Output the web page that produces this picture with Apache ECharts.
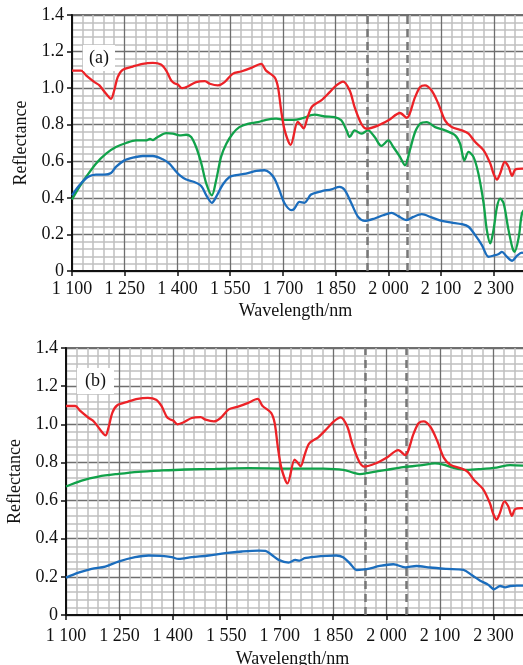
<!DOCTYPE html>
<html>
<head>
<meta charset="utf-8">
<script src="https://cdn.jsdelivr.net/npm/echarts@6/dist/echarts.min.js"></script>
<style>
  html, body { margin: 0; padding: 0; background: #fff; }
  #main { width: 523px; height: 665px; }
</style>
</head>
<body>
<div id="main"></div>
<script>
// x tick labels as printed in the figure (the 2150 tick is labelled "2 100")
var xTickLabels = ['1 100', '1 250', '1 400', '1 550', '1 700', '1 850', '2 000', '2 100', '2 300'];
var dashedWl = [1940, 2054];

// red curve, same in (a) and (b)
var redCurve = [
  [1100,1.096],[1126,1.096],[1140,1.07],[1164,1.033],[1178,1.015],[1197,0.969],[1211,0.942],
  [1220,0.987],[1230,1.06],[1244,1.10],[1273,1.118],[1301,1.133],[1330,1.138],[1353,1.129],
  [1368,1.096],[1382,1.042],[1391,1.027],[1401,1.02],[1413,1.0],[1429,1.009],[1453,1.033],
  [1478,1.038],[1492,1.024],[1515,1.015],[1534,1.033],[1557,1.078],[1581,1.091],[1610,1.111],
  [1638,1.133],[1652,1.096],[1676,1.06],[1686,1.005],[1695,0.878],[1705,0.769],[1722,0.69],
  [1742,0.815],[1750,0.80],[1759,0.78],[1770,0.84],[1783,0.90],[1809,0.933],[1833,0.978],
  [1852,1.015],[1871,1.036],[1890,0.987],[1904,0.896],[1923,0.805],[1938,0.778],[1971,0.796],
  [2000,0.824],[2033,0.864],[2052,0.838],[2076,0.951],[2090,1.005],[2104,1.015],[2123,0.987],
  [2142,0.915],[2161,0.824],[2180,0.787],[2209,0.769],[2228,0.751],[2247,0.705],[2271,0.66],
  [2290,0.587],[2299,0.533],[2309,0.50],[2318,0.533],[2331,0.596],[2342,0.569],[2352,0.52],
  [2361,0.555],[2380,0.56],[2392,0.555]
];

var greenA = [
  [1100,0.391],[1121,0.46],[1140,0.514],[1168,0.587],[1197,0.642],[1225,0.678],[1254,0.70],
  [1282,0.714],[1310,0.714],[1322,0.722],[1330,0.716],[1337,0.724],[1344,0.733],[1368,0.754],
  [1387,0.751],[1406,0.742],[1425,0.745],[1439,0.733],[1453,0.678],[1468,0.587],[1482,0.478],
  [1498,0.414],[1510,0.496],[1524,0.624],[1539,0.696],[1557,0.751],[1576,0.787],[1600,0.805],
  [1629,0.814],[1652,0.827],[1681,0.833],[1705,0.827],[1730,0.826],[1752,0.833],[1790,0.855],
  [1819,0.845],[1847,0.842],[1866,0.824],[1881,0.769],[1890,0.733],[1904,0.769],[1923,0.751],
  [1942,0.769],[1961,0.733],[1980,0.684],[2000,0.714],[2014,0.678],[2033,0.624],[2047,0.578],
  [2061,0.66],[2076,0.76],[2090,0.805],[2109,0.814],[2133,0.787],[2161,0.769],[2190,0.742],
  [2204,0.696],[2216,0.605],[2228,0.651],[2242,0.624],[2256,0.533],[2271,0.369],[2280,0.224],
  [2290,0.151],[2299,0.224],[2309,0.351],[2318,0.396],[2328,0.369],[2340,0.242],[2352,0.133],
  [2359,0.105],[2371,0.187],[2380,0.314],[2392,0.35]
];

var blueA = [
  [1100,0.414],[1121,0.469],[1145,0.514],[1168,0.527],[1192,0.527],[1211,0.536],[1225,0.569],
  [1249,0.605],[1273,0.62],[1301,0.629],[1330,0.629],[1358,0.611],[1377,0.587],[1391,0.555],
  [1406,0.524],[1425,0.50],[1448,0.487],[1468,0.464],[1482,0.414],[1498,0.373],[1510,0.405],
  [1529,0.473],[1548,0.514],[1567,0.524],[1595,0.533],[1624,0.547],[1648,0.551],[1662,0.538],
  [1676,0.505],[1690,0.442],[1705,0.369],[1724,0.333],[1732,0.34],[1747,0.378],[1761,0.373],
  [1780,0.418],[1809,0.436],[1838,0.447],[1861,0.46],[1876,0.442],[1895,0.369],[1914,0.296],
  [1933,0.274],[1961,0.287],[1985,0.305],[2009,0.318],[2028,0.30],[2052,0.278],[2071,0.296],
  [2095,0.311],[2123,0.293],[2152,0.274],[2180,0.265],[2209,0.256],[2228,0.242],[2247,0.196],
  [2266,0.142],[2285,0.078],[2299,0.084],[2314,0.093],[2323,0.105],[2337,0.078],[2352,0.056],
  [2366,0.084],[2380,0.10],[2392,0.096]
];

var greenB = [
  [1100,0.674],[1144,0.705],[1191,0.726],[1247,0.74],[1303,0.751],[1369,0.758],[1435,0.763],
  [1519,0.766],[1613,0.77],[1707,0.768],[1822,0.767],[1878,0.761],[1906,0.747],[1925,0.739],
  [1953,0.747],[2000,0.761],[2047,0.775],[2094,0.784],[2136,0.795],[2159,0.789],[2188,0.772],
  [2225,0.761],[2263,0.765],[2309,0.773],[2347,0.786],[2392,0.782]
];

var blueB = [
  [1100,0.196],[1135,0.222],[1172,0.242],[1210,0.254],[1247,0.28],[1294,0.303],[1332,0.312],
  [1369,0.31],[1397,0.303],[1416,0.294],[1453,0.303],[1500,0.312],[1547,0.324],[1594,0.333],
  [1641,0.338],[1660,0.336],[1678,0.315],[1697,0.289],[1725,0.275],[1744,0.289],[1756,0.285],
  [1770,0.298],[1803,0.306],[1831,0.31],[1859,0.312],[1878,0.303],[1897,0.271],[1916,0.236],
  [1944,0.24],[1981,0.257],[2019,0.266],[2052,0.25],[2084,0.257],[2122,0.249],[2169,0.242],
  [2216,0.236],[2239,0.21],[2263,0.18],[2286,0.158],[2302,0.135],[2319,0.152],[2333,0.145],
  [2347,0.152],[2366,0.154],[2392,0.154]
];

var font = 'Liberation Serif';
var red = '#ec2227', green = '#11a24a', blue = '#1b6dbd';

function xAxisFor(gi, gap, margin) {
  return {
    gridIndex: gi, type: 'value', min: 1100, max: 2400, interval: 150,
    name: 'Wavelength/nm', nameLocation: 'middle', nameGap: gap,
    nameTextStyle: { fontFamily: font, fontSize: 18, color: '#111', verticalAlign: 'top', padding: [0, 10, 0, 0] },
    axisLine: { lineStyle: { color: '#111', width: 2 } },
    axisTick: { show: true, length: 5, lineStyle: { color: '#111', width: 1.5 } },
    axisLabel: {
      margin: margin, fontFamily: font, fontSize: 18, color: '#111',
      formatter: function (v) {
        var i = Math.round((v - 1100) / 150);
        return xTickLabels[i] || '';
      }
    },
    splitLine: { show: true, lineStyle: { color: '#6e6e6e', width: 1.3 } },
    minorTick: { show: false, splitNumber: 5 },
    minorSplitLine: { show: true, lineStyle: { color: '#c0c0c0', width: 1.5 } }
  };
}

function yAxisFor(gi, gap) {
  return {
    gridIndex: gi, type: 'value', min: 0, max: 1.4, interval: 0.2,
    name: 'Reflectance', nameLocation: 'middle', nameGap: gap, nameRotate: 90,
    nameTextStyle: { fontFamily: font, fontSize: 18, color: '#111' },
    axisLine: { show: true, lineStyle: { color: '#111', width: 2 } },
    axisTick: { show: true, length: 5, lineStyle: { color: '#111', width: 1.5 } },
    axisLabel: {
      margin: 8, fontFamily: font, fontSize: 18, color: '#111',
      formatter: function (v) { return v === 0 ? '0' : v.toFixed(1); }
    },
    splitLine: { show: true, lineStyle: { color: '#6e6e6e', width: 1.3 } },
    minorTick: { show: false, splitNumber: 5 },
    minorSplitLine: { show: true, lineStyle: { color: '#c0c0c0', width: 1.5 } }
  };
}

function lineSeries(idx, data, color, withMarks) {
  var s = {
    type: 'line', xAxisIndex: idx, yAxisIndex: idx, data: data,
    smooth: 0.3, showSymbol: false, symbol: 'none',
    lineStyle: { color: color, width: 2.3 }, z: 5
  };
  if (withMarks) {
    s.markLine = {
      silent: true, symbol: ['none', 'none'], label: { show: false },
      lineStyle: { color: '#777', width: 2.5, type: [8, 5] },
      data: dashedWl.map(function (w) { return { xAxis: w }; })
    };
  }
  return s;
}

var myChart = echarts.init(document.getElementById('main'));
myChart.setOption({
  animation: false,
  backgroundColor: '#fff',
  title: [
    { text: '(a)', left: 83, top: 45, padding: [4, 6, 4, 6], backgroundColor: '#fff',
      textStyle: { fontFamily: font, fontSize: 18, fontWeight: 'normal', color: '#111' } },
    { text: '(b)', left: 77, top: 368, padding: [4, 8, 4, 8], backgroundColor: '#fff',
      textStyle: { fontFamily: font, fontSize: 18, fontWeight: 'normal', color: '#111' } }
  ],
  grid: [
    { left: 72, right: -6, top: 15, height: 256, show: true, borderColor: '#444', borderWidth: 1.5,
      containLabel: false, outerBoundsMode: 'none' },
    { left: 66, right: -6, top: 348, height: 267, show: true, borderColor: '#444', borderWidth: 1.5,
      containLabel: false, outerBoundsMode: 'none' }
  ],
  xAxis: [xAxisFor(0, 31, 9), xAxisFor(1, 35, 12)],
  yAxis: [yAxisFor(0, 35), yAxisFor(1, 40)],
  series: [
    lineSeries(0, greenA, green, true),
    lineSeries(0, blueA, blue, false),
    lineSeries(0, redCurve, red, false),
    lineSeries(1, greenB, green, true),
    lineSeries(1, blueB, blue, false),
    lineSeries(1, redCurve, red, false)
  ]
});
</script>
</body>
</html>
